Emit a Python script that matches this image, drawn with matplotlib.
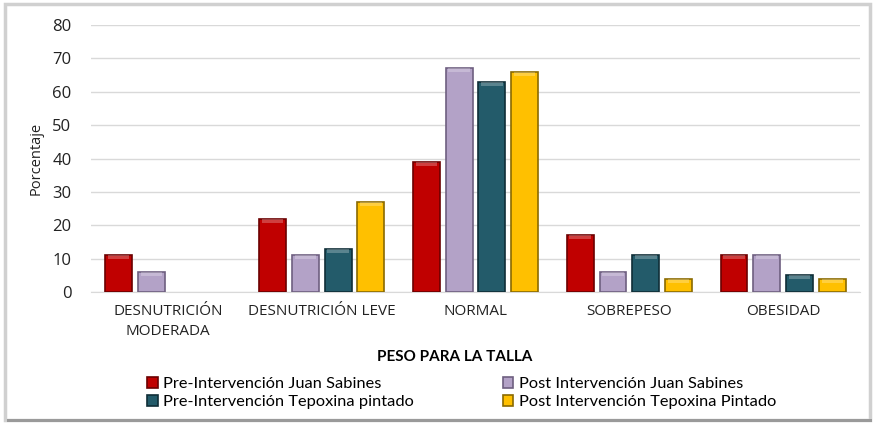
import numpy as np
import matplotlib.pyplot as plt
from matplotlib.patches import FancyBboxPatch

# datos
categorias = ['DESNUTRICIÓN\nMODERADA', 'DESNUTRICIÓN LEVE', 'NORMAL', 'SOBREPESO', 'OBESIDAD']
pre_juan = [11, 22, 39, 17, 11]
post_juan = [6, 11, 67, 6, 11]
pre_tepoxina = [0, 13, 63, 11, 5]
post_tepoxina = [0, 27, 66, 4, 4]

series = [
    ('Pre-Intervención Juan Sabines', pre_juan, '#C00000', '#6B0000'),
    ('Post Intervención Juan Sabines', post_juan, '#B3A2C7', '#6E5F80'),
    ('Pre-Intervención Tepoxina pintado', pre_tepoxina, '#235B6A', '#0F2E37'),
    ('Post Intervención Tepoxina Pintado', post_tepoxina, '#FFC000', '#8A6A00'),
]

plt.rcParams['font.family'] = ['Open Sans', 'DejaVu Sans']

fig = plt.figure(figsize=(8.78, 4.25), dpi=100)
ax = fig.add_axes([0.1036, 0.313, 0.876, 0.628])

# marco del gráfico con sombra
fig.patches.append(FancyBboxPatch((0.006, 0.012), 0.985, 0.978, boxstyle='square,pad=0',
                                  transform=fig.transFigure, facecolor='none',
                                  edgecolor='#D0D0D0', linewidth=2.5, zorder=0))
fig.patches.append(FancyBboxPatch((0.008, 0.008), 0.985, 0.005, boxstyle='square,pad=0',
                                  transform=fig.transFigure, facecolor='#9A9A9A',
                                  edgecolor='none', zorder=0))

x = np.arange(len(categorias))
ancho = 0.175
paso = 0.213
handles = {}
for i, (nombre, valores, color, borde) in enumerate(series):
    pos = x + (i - 1.5) * paso
    vals = np.array(valores, dtype=float)
    mask = vals > 0
    b = ax.bar(pos[mask], vals[mask], width=ancho, color=color, edgecolor=borde,
               linewidth=1.2, label=nombre, zorder=3)
    # brillo superior para imitar el bisel
    ax.bar(pos[mask], np.minimum(vals[mask], 1.2), bottom=vals[mask] - np.minimum(vals[mask], 1.2),
           width=ancho * 0.8, color='white', alpha=0.25, linewidth=0, zorder=4)
    handles[nombre] = b

ax.set_ylim(0, 80)
ax.set_yticks(range(0, 81, 10))
ax.set_xlim(-0.5, len(categorias) - 0.5)
ax.set_xticks(x)
ax.set_xticklabels(categorias, fontsize=11, color='#222222', linespacing=1.45)
ax.tick_params(axis='y', labelsize=12, colors='#222222', length=0, pad=14)
ax.tick_params(axis='x', length=0, pad=9)
ax.grid(axis='y', color='#D9D9D9', linewidth=1, zorder=0)
for s in ['top', 'right', 'left']:
    ax.spines[s].set_visible(False)
ax.spines['bottom'].set_color('#D9D9D9')

ax.set_ylabel('Porcentaje', fontsize=10.5, color='#222222', labelpad=6)

fig.text(0.518, 0.16, 'PESO PARA LA TALLA', ha='center', va='center',
         fontsize=11, fontweight='bold', family=['Lato', 'DejaVu Sans'])

# orden por filas como en el original
orden = [series[0][0], series[2][0], series[1][0], series[3][0]]
leg = fig.legend([handles[n] for n in orden], orden, loc='upper left',
                 bbox_to_anchor=(0.158, 0.132), ncol=2, frameon=False,
                 handlelength=0.65, handleheight=0.65, handletextpad=0.35,
                 columnspacing=5.4, labelspacing=0.2, borderpad=0,
                 prop={'family': ['Lato', 'DejaVu Sans'], 'size': 11.8})

fig.savefig('out.png', dpi=100)
